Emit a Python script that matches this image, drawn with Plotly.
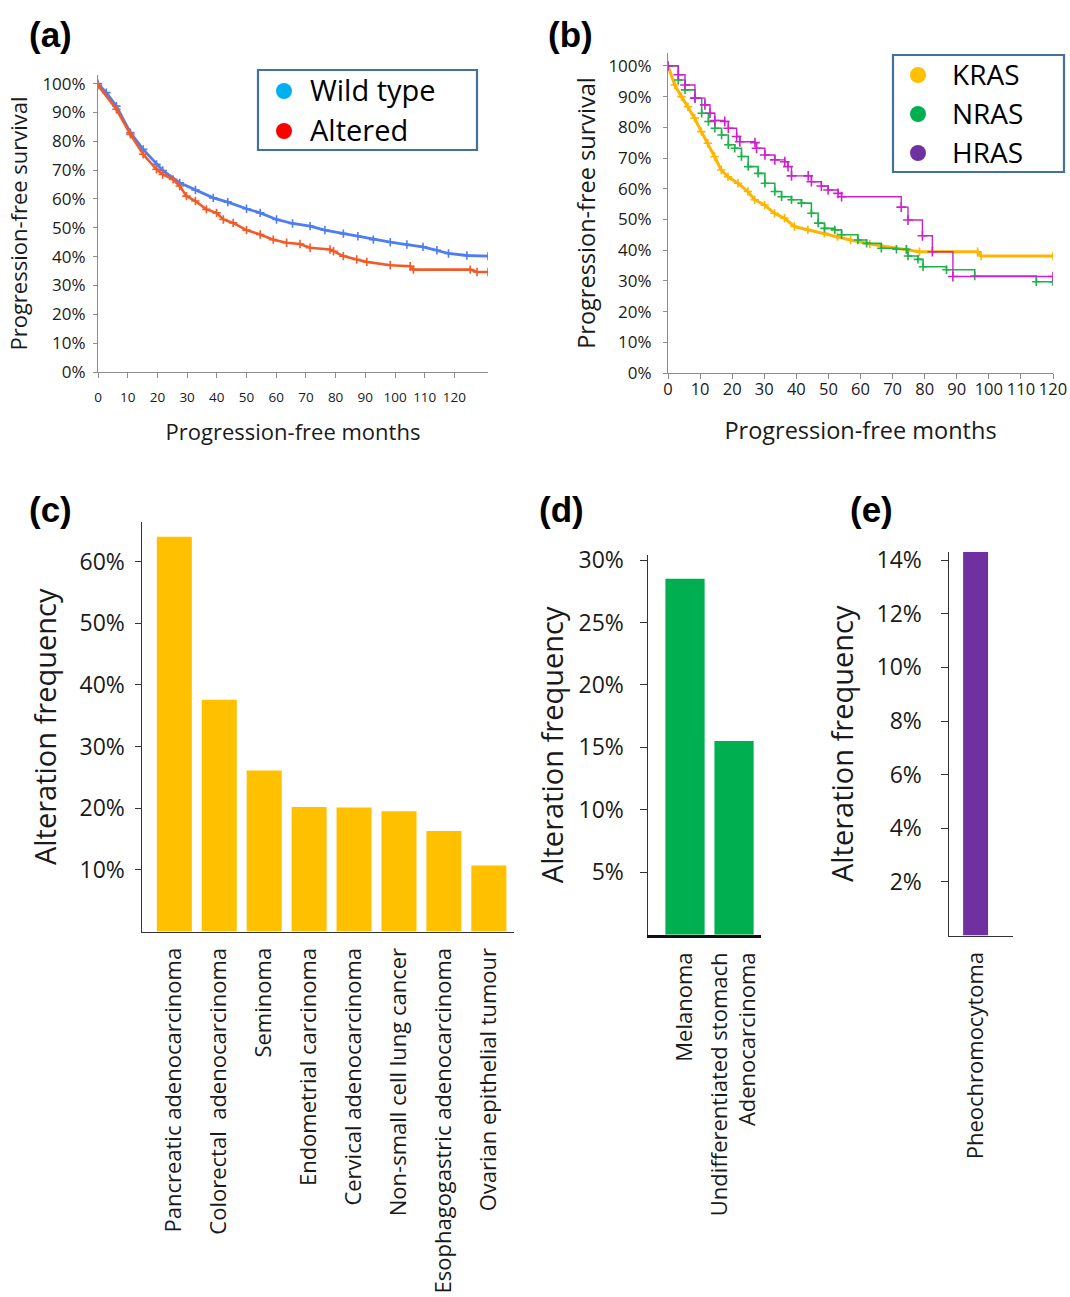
import plotly.graph_objects as go

W, H = 1070, 1297
FONT = "Open Sans"

# ---------------- Panel (a) data ----------------
wt_months = [0, 2.8, 6.2, 10.9, 15.2, 19.7, 21.8, 27.5, 32.8, 38.8, 43.7, 50.0, 54.6, 60.1, 65.5,
             71.4, 76.4, 82.6, 87.5, 92.7, 98.4, 104.0, 109.4, 114.1, 118.0, 124.2, 131.3]
wt_surv = [100, 96.9, 92.2, 83.0, 77.2, 72.0, 69.9, 65.6, 63.1, 60.4, 58.9, 56.6, 55.2, 52.9, 51.5,
           50.6, 49.2, 48.0, 47.1, 45.9, 45.0, 44.2, 43.4, 42.2, 41.1, 40.4, 40.2]
alt_months = [0, 6.2, 10.9, 15.2, 19.7, 21.8, 25.3, 27.5, 29.8, 32.8, 36.5, 39.9, 42.2, 45.5, 50.0,
              54.6, 59.0, 63.5, 68.0, 71.4, 78.1, 79.3, 82.6, 87.1, 90.5, 98.4, 105.1, 106.2,
              125.3, 127.6, 131.3]
alt_surv = [99.4, 91.1, 82.4, 75.5, 70.3, 68.5, 66.8, 64.5, 61.0, 59.3, 56.4, 55.2, 52.9, 51.7, 49.2,
            47.7, 45.9, 44.8, 44.4, 43.1, 42.5, 41.9, 40.2, 39.0, 38.2, 37.0, 36.7, 35.5,
            35.5, 34.7, 34.7]

# ---------------- Panel (b) data ----------------
kras_months = [0, 2.1, 4.2, 6.2, 8.3, 10.4, 12.4, 14.5, 16.6, 18.7, 21.8, 24.9, 27.0, 30.1, 33.2,
               36.3, 39.4, 43.6, 48.7, 52.8, 56.9, 62.9, 74.3, 78.4, 96.5, 97.6, 120]
kras_surv = [100, 93.8, 90.0, 86.7, 83.0, 78.6, 74.8, 70.5, 66.1, 63.9, 61.8, 59.1, 56.4, 54.7, 52.0,
             50.4, 47.7, 46.6, 45.5, 44.4, 43.3, 42.0, 40.1, 39.5, 39.5, 38.1, 38.1]
nras_months = [0, 3.2, 5.3, 8.4, 10.5, 12.6, 14.6, 16.7, 18.8, 20.8, 22.9, 25.0, 28.1, 30.2, 33.3,
               35.4, 38.5, 41.6, 44.7, 46.8, 48.8, 52.0, 54.1, 59.2, 61.9, 66.5, 71.2, 74.3, 74.8,
               77.9, 79.5, 86.8, 95.6, 114.8, 120]
nras_surv = [100, 95.4, 92.2, 89.5, 84.6, 81.9, 79.7, 77.5, 74.3, 73.2, 70.5, 67.2, 65.0, 61.8, 59.1,
             57.4, 56.4, 55.3, 52.0, 48.8, 47.1, 46.6, 45.0, 43.3, 42.2, 40.6, 40.3, 40.3, 38.1,
             37.0, 34.6, 33.6, 31.6, 29.7, 29.7]
hras_months = [0, 3.2, 5.3, 8.4, 11.5, 13.1, 14.6, 17.7, 18.8, 21.4, 22.4, 27.1, 27.6, 30.2, 33.3,
               36.4, 37.4, 38.5, 43.7, 44.7, 47.8, 49.9, 53.0, 54.1, 72.7, 74.8, 79.3, 82.4, 88.8, 120]
hras_surv = [100, 97.1, 93.8, 89.5, 87.3, 84.6, 82.2, 81.9, 79.7, 77.0, 75.3, 75.0, 73.2, 71.0, 69.4,
             68.8, 67.2, 64.2, 64.2, 62.3, 60.9, 59.6, 58.5, 57.4, 54.0, 49.8, 44.7, 39.5, 31.4, 31.4]

# ---------------- Panel (c), (d), (e) data ----------------
kras_types = ["Pancreatic adenocarcinoma", "Colorectal  adenocarcinoma", "Seminoma",
              "Endometrial carcinoma", "Cervical adenocarcinoma", "Non-small cell lung cancer",
              "Esophagogastric adenocarcinoma", "Ovarian epithelial tumour"]
kras_freq = [64.0, 37.6, 26.1, 20.2, 20.1, 19.5, 16.3, 10.7]
nras_types = ["Melanoma", "Undifferentiated stomach<br>Adenocarcinoma"]
nras_freq = [28.5, 15.5]
hras_types = ["Pheochromocytoma"]
hras_freq = [14.3]

legend_a = [("Wild type", "#00b0f0"), ("Altered", "#ff0000")]
legend_b = [("KRAS", "#ffc000"), ("NRAS", "#00b050"), ("HRAS", "#7030a0")]

surv_ticks = list(range(0, 101, 10))
month_ticks = list(range(0, 121, 10))


def xd(a, b):
    return [a / W, b / W]


def yd(top, bottom):
    return [1 - bottom / H, 1 - top / H]


def px(x):
    return x / W


def py(y):
    return 1 - y / H


fig = go.Figure()


def km(xs, ys, color, width, axes, shape="linear", msize=6):
    fig.add_trace(go.Scatter(x=xs, y=ys, mode="lines+markers", xaxis=axes[0], yaxis=axes[1],
                             line=dict(color=color, width=width, shape=shape),
                             marker=dict(symbol="cross-thin", size=msize, line=dict(color=color, width=1.6)),
                             showlegend=False, hoverinfo="skip"))


km(wt_months, wt_surv, "#4f7df2", 2.8, ("x", "y"))
km(alt_months, alt_surv, "#f25a28", 2.6, ("x", "y"))
km(kras_months, kras_surv, "#ffb400", 3, ("x2", "y2"))
km(nras_months, nras_surv, "#1fb24a", 1.6, ("x2", "y2"), shape="hv")
km(hras_months, hras_surv, "#cc22cc", 1.4, ("x2", "y2"), shape="hv", msize=7)

fig.add_trace(go.Bar(x=kras_types, y=kras_freq, xaxis="x3", yaxis="y3", marker_color="#ffc000",
                     marker_line_width=0, width=0.78, showlegend=False, hoverinfo="skip"))
fig.add_trace(go.Bar(x=nras_types, y=nras_freq, xaxis="x4", yaxis="y4", marker_color="#00b050",
                     marker_line_width=0, width=0.8, showlegend=False, hoverinfo="skip"))
fig.add_trace(go.Bar(x=hras_types, y=hras_freq, xaxis="x5", yaxis="y5", marker_color="#7030a0",
                     marker_line_width=0, width=0.6, showlegend=False, hoverinfo="skip"))

GRAY = "#8c8c8c"
DARK = "#333333"
common = dict(showgrid=False, zeroline=False, fixedrange=True, automargin=False)

layout = dict(
    template="none",
    width=W, height=H, paper_bgcolor="white", plot_bgcolor="white",
    margin=dict(l=0, r=0, t=0, b=0, pad=0),
    font=dict(family=FONT, color="#1a1a1a"),
    showlegend=False,
    xaxis=dict(domain=xd(98, 488), range=[0, 131.3], anchor="y", tickvals=month_ticks,
               ticks="outside", ticklen=5, tickcolor=GRAY, showline=True, linecolor=GRAY, linewidth=1,
               tickfont=dict(size=13.5), ticklabelstandoff=8,
               title=dict(text="Progression-free months", font=dict(size=22), standoff=19), **common),
    yaxis=dict(domain=yd(75, 372), range=[0, 103], anchor="x", tickvals=surv_ticks,
               ticktext=[f"{v}%" for v in surv_ticks], ticks="outside", ticklen=4, tickcolor=GRAY,
               showline=True, linecolor=GRAY, linewidth=1, tickfont=dict(size=17), ticklabelstandoff=4,
               title=dict(text="Progression-free survival", font=dict(size=22), standoff=8), **common),
    xaxis2=dict(domain=xd(668, 1053), range=[0, 120], anchor="y2", tickvals=month_ticks,
                ticks="outside", ticklen=5, tickcolor=GRAY, showline=True, linecolor=GRAY, linewidth=1,
                tickfont=dict(size=16.5), ticklabelstandoff=-4,
                title=dict(text="Progression-free months", font=dict(size=23.5), standoff=23), **common),
    yaxis2=dict(domain=yd(53, 373), range=[0, 104.2], anchor="x2", tickvals=surv_ticks,
                ticktext=[f"{v}%" for v in surv_ticks], ticks="outside", ticklen=4, tickcolor=GRAY,
                showline=True, linecolor=GRAY, linewidth=1, tickfont=dict(size=17), ticklabelstandoff=8,
                title=dict(text="Progression-free survival", font=dict(size=23.5), standoff=6), **common),
    xaxis3=dict(domain=xd(142, 514), range=[-0.72, 7.56], anchor="y3", showline=True,
                linecolor=DARK, linewidth=1.5, ticks="", tickangle=-90, tickfont=dict(size=22),
                ticklabelstandoff=6, **common),
    yaxis3=dict(domain=yd(522, 931.6), range=[0, 66.4], anchor="x3", tickvals=[10, 20, 30, 40, 50, 60],
                ticktext=["10%", "20%", "30%", "40%", "50%", "60%"], ticks="outside", ticklen=6,
                tickcolor=DARK, showline=True, linecolor=DARK, linewidth=1.5, tickfont=dict(size=23),
                ticklabelstandoff=5,
                title=dict(text="Alteration frequency", font=dict(size=29), standoff=14), **common),
    xaxis4=dict(domain=xd(648, 761), range=[-0.755, 1.55], anchor="y4", showline=True,
                linecolor="#111111", linewidth=3, ticks="", tickangle=-90, tickfont=dict(size=22),
                ticklabelstandoff=6, **common),
    yaxis4=dict(domain=yd(555, 934.7), range=[0, 30.4], anchor="x4", tickvals=[5, 10, 15, 20, 25, 30],
                ticktext=["5%", "10%", "15%", "20%", "25%", "30%"], ticks="outside", ticklen=7,
                tickcolor=DARK, showline=True, linecolor=DARK, linewidth=1.5, tickfont=dict(size=23),
                ticklabelstandoff=11,
                title=dict(text="Alteration frequency", font=dict(size=29), standoff=6), **common),
    xaxis5=dict(domain=xd(949, 1013), range=[-0.64, 0.9], anchor="y5", showline=True,
                linecolor=DARK, linewidth=1.5, ticks="", tickangle=-90, tickfont=dict(size=22),
                ticklabelstandoff=6, **common),
    yaxis5=dict(domain=yd(552, 935.6), range=[0, 14.3], anchor="x5",
                tickvals=[2, 4, 6, 8, 10, 12, 14],
                ticktext=["2%", "4%", "6%", "8%", "10%", "12%", "14%"], ticks="outside", ticklen=7,
                tickcolor=DARK, showline=True, linecolor=DARK, linewidth=1.5, tickfont=dict(size=23),
                ticklabelstandoff=14,
                title=dict(text="Alteration frequency", font=dict(size=29), standoff=14), **common),
)
fig.update_layout(**layout)

# Legend boxes (drawn as shapes + text)
shapes = []
annos = []


def draw_legend(box, items, dot_x, text_x, ys, fsize):
    x0, y0, x1, y1 = box
    shapes.append(dict(type="rect", xref="paper", yref="paper", x0=px(x0), x1=px(x1),
                       y0=py(y1), y1=py(y0), line=dict(color="#41719c", width=2.2),
                       fillcolor="white", layer="above"))
    for (name, col), yy in zip(items, ys):
        shapes.append(dict(type="circle", xref="paper", yref="paper", x0=px(dot_x - 8), x1=px(dot_x + 8),
                           y0=py(yy + 8), y1=py(yy - 8), line=dict(width=0), fillcolor=col,
                           layer="above"))
        annos.append(dict(text=name, x=px(text_x), y=py(yy - 1), xref="paper", yref="paper",
                          xanchor="left", yanchor="middle", showarrow=False,
                          font=dict(family=FONT, size=fsize, color="black")))


draw_legend((258, 70, 477, 150), legend_a, 284, 308, [91, 131], 29)
draw_legend((893, 55, 1064, 172), legend_b, 918, 950, [75, 114, 153], 28)

for txt, x, y in [("(a)", 27, 34), ("(b)", 546, 34), ("(c)", 27, 509), ("(d)", 537, 509), ("(e)", 848, 509)]:
    annos.append(dict(text=f"<b>{txt}</b>", x=px(x), y=py(y), xref="paper", yref="paper",
                      xanchor="left", yanchor="middle", showarrow=False,
                      font=dict(family="Liberation Sans, Arial", size=35, color="black")))

fig.update_layout(shapes=shapes, annotations=annos)

fig.write_html("out.html", config={"displayModeBar": False, "staticPlot": True},
               post_script="document.body.style.margin='0';document.body.style.padding='0';")
